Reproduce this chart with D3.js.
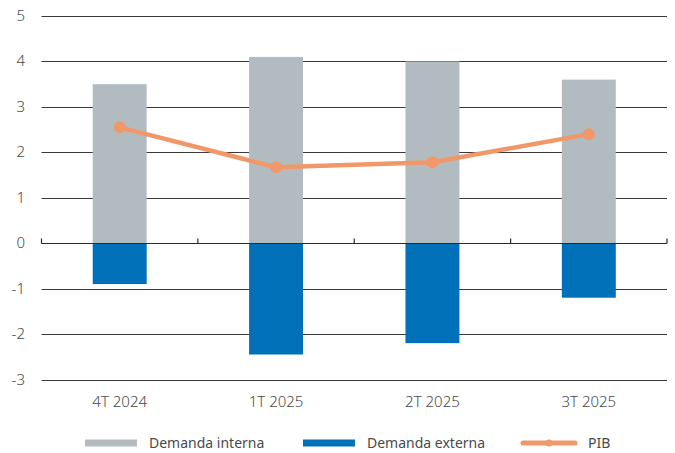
<!DOCTYPE html>
<html>
<head>
<meta charset="utf-8">
<script src="https://cdn.jsdelivr.net/npm/d3@7"></script>
<style>
  body { margin: 0; background: #fff; }
  svg text { font-family: "Noto Sans", sans-serif; fill: #4a4a4a; }
</style>
</head>
<body>
<div id="chart"></div>
<script>
const categories = ["4T 2024", "1T 2025", "2T 2025", "3T 2025"];
const demandaInterna = [3.5, 4.1, 4.0, 3.6];
const demandaExterna = [-0.9, -2.45, -2.2, -1.2];
const pib = [2.55, 1.67, 1.78, 2.4];
const yTicks = [-3, -2, -1, 0, 1, 2, 3, 4, 5];

const width = 675, height = 453;
const colInterna = "#b2bcc0", colExterna = "#0070b8", colPib = "#f0986a";

const svg = d3.select("#chart").append("svg")
    .attr("width", width)
    .attr("height", height);

const x = d3.scaleBand()
    .domain(categories)
    .range([41.5, 667])
    .paddingInner(0.655)
    .paddingOuter(0.3275);

const y = d3.scaleLinear()
    .domain([-3, 5])
    .range([379.5, 16]);

// gridlines
svg.append("g")
  .selectAll("line")
  .data(yTicks.filter(d => d !== 0))
  .enter().append("line")
    .attr("x1", 41.5).attr("x2", 667)
    .attr("y1", d => Math.round(y(d)) + 0.5)
    .attr("y2", d => Math.round(y(d)) + 0.5)
    .attr("stroke", "#3a3a3a")
    .attr("stroke-width", 1);

// y labels
svg.append("g")
  .selectAll("text")
  .data(yTicks)
  .enter().append("text")
    .attr("x", 25)
    .attr("y", d => y(d) + 5)
    .attr("text-anchor", "end")
    .style("font-size", "15px")
    .style("font-weight", 300)
    .text(d => d);

// bars
svg.append("g")
  .selectAll("rect")
  .data(categories)
  .enter().append("rect")
    .attr("x", d => x(d))
    .attr("width", x.bandwidth())
    .attr("y", (d, i) => y(demandaInterna[i]))
    .attr("height", (d, i) => y(0) - y(demandaInterna[i]))
    .attr("fill", colInterna);

svg.append("g")
  .selectAll("rect")
  .data(categories)
  .enter().append("rect")
    .attr("x", d => x(d))
    .attr("width", x.bandwidth())
    .attr("y", y(0))
    .attr("height", (d, i) => y(demandaExterna[i]) - y(0))
    .attr("fill", colExterna);

// zero axis with category ticks
const zeroY = Math.round(y(0)) + 0.5;
svg.append("line")
    .attr("x1", 41.5).attr("x2", 667)
    .attr("y1", zeroY).attr("y2", zeroY)
    .attr("stroke", "#2a2a2a")
    .attr("stroke-width", 1.2);

const step = x.step();
const boundaries = d3.range(categories.length + 1).map(i => 41.5 + i * step);
svg.append("g")
  .selectAll("line")
  .data(boundaries)
  .enter().append("line")
    .attr("x1", d => d).attr("x2", d => d)
    .attr("y1", zeroY - 5).attr("y2", zeroY)
    .attr("stroke", "#2a2a2a")
    .attr("stroke-width", 1.2);

// PIB line
const line = d3.line()
    .x((d, i) => x(categories[i]) + x.bandwidth() / 2)
    .y(d => y(d));

svg.append("path")
    .datum(pib)
    .attr("d", line)
    .attr("fill", "none")
    .attr("stroke", colPib)
    .attr("stroke-width", 4.5);

svg.append("g")
  .selectAll("circle")
  .data(pib)
  .enter().append("circle")
    .attr("cx", (d, i) => x(categories[i]) + x.bandwidth() / 2)
    .attr("cy", d => y(d))
    .attr("r", 6)
    .attr("fill", colPib);

// x labels
svg.append("g")
  .selectAll("text")
  .data(categories)
  .enter().append("text")
    .attr("x", d => x(d) + x.bandwidth() / 2)
    .attr("y", 407)
    .attr("text-anchor", "middle")
    .style("font-size", "15px")
    .style("font-weight", 300)
    .text(d => d);

// legend
const legend = svg.append("g");
legend.append("rect")
    .attr("x", 85).attr("y", 439.5).attr("width", 52).attr("height", 7)
    .attr("fill", colInterna);
legend.append("text")
    .attr("x", 149).attr("y", 447.5)
    .style("font-size", "14px")
    .text("Demanda interna");

legend.append("rect")
    .attr("x", 303).attr("y", 439.5).attr("width", 52).attr("height", 7)
    .attr("fill", colExterna);
legend.append("text")
    .attr("x", 367).attr("y", 447.5)
    .style("font-size", "14px")
    .text("Demanda externa");

legend.append("line")
    .attr("x1", 523).attr("x2", 575)
    .attr("y1", 443).attr("y2", 443)
    .attr("stroke", colPib)
    .attr("stroke-width", 5)
    .attr("stroke-linecap", "round");
legend.append("circle")
    .attr("cx", 549).attr("cy", 443).attr("r", 3.5)
    .attr("fill", colPib);
legend.append("text")
    .attr("x", 588).attr("y", 447.5)
    .style("font-size", "14px")
    .text("PIB");
</script>
</body>
</html>
